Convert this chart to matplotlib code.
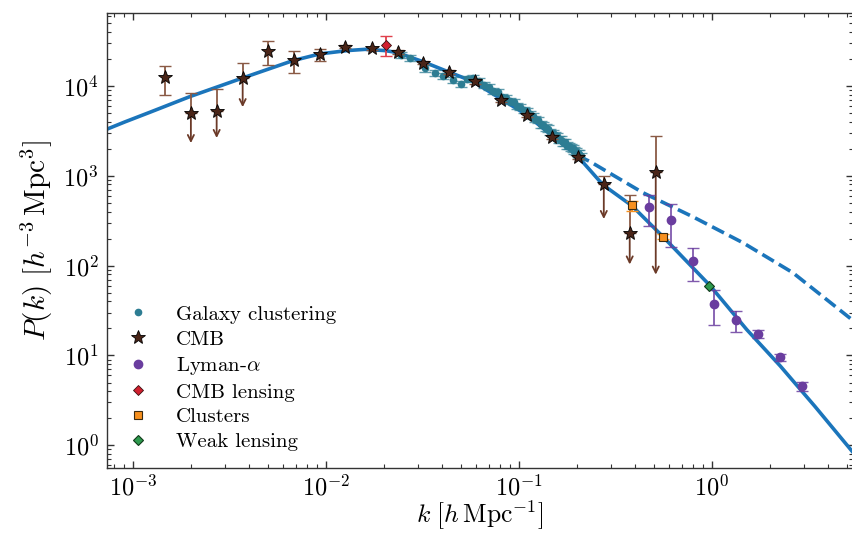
import matplotlib.pyplot as plt
import numpy as np

plt.rcParams.update({
    "font.family": "serif",
    "font.serif": ["cmr10"],
    "mathtext.fontset": "cm",
    "axes.formatter.use_mathtext": True,
    "axes.unicode_minus": False,
})

# linear theory P(k)
K_LIN = [7.35e-4, 9.12e-4, 1.23e-3, 1.98e-3, 3.72e-3, 6.76e-3, 9.33e-3, 1.29e-2,
         1.60e-2, 2.03e-2, 2.34e-2, 3.19e-2, 4.40e-2, 5.79e-2, 7.98e-2, 0.110,
         0.150, 0.200, 0.273, 0.386, 0.559, 0.980, 1.52, 2.26, 3.43, 5.40]
P_LIN = [3300, 3980, 5100, 7610, 12270, 19100, 22700, 24700,
         25500, 24700, 23500, 18600, 14100, 11200, 7300, 4760,
         2740, 1690, 794, 464, 210, 60, 19.4, 7.7, 2.71, 0.836]

# non-linear branch (dashed)
K_NL = [0.200, 0.234, 0.440, 0.798, 1.45, 2.63, 5.40]
P_NL = [1690, 1440, 648, 350, 180, 83.6, 24.5]

# galaxy clustering
GAL_K = [0.0245, 0.0273, 0.0327, 0.0368, 0.0405, 0.0456, 0.0502, 0.0539,
         0.058, 0.062, 0.066, 0.070, 0.074, 0.078, 0.082, 0.086, 0.090, 0.094,
         0.098, 0.102, 0.106, 0.110, 0.114, 0.118, 0.122, 0.126, 0.130, 0.134,
         0.138, 0.142, 0.146, 0.150, 0.154, 0.158, 0.162, 0.166, 0.170, 0.174,
         0.178, 0.182, 0.186, 0.190, 0.194, 0.198, 0.202, 0.206, 0.210]
GAL_P = [22000, 20500, 15700, 14060, 12900, 11660, 10520, 11860,
         12200, 11360, 10150, 9720, 8770, 8470, 7560, 7300, 6800, 6590,
         5950, 5800, 5400, 5280, 4820, 4610, 4290, 4170, 3760, 3690,
         3430, 3350, 3070, 2980, 2820, 2770, 2560, 2520, 2380, 2350,
         2170, 2150, 2060, 2020, 1900, 1880, 1780, 1750, 1650]
GAL_ERR = [1800, 1700, 1300, 1150, 1050, 950, 860, 900,
           900, 850, 780, 740, 680, 650, 600, 580, 540, 520,
           480, 470, 440, 430, 400, 380, 360, 350, 320, 310,
           290, 285, 265, 255, 245, 240, 225, 220, 210, 205,
           195, 190, 185, 180, 170, 170, 160, 160, 150]

# CMB (stars); upper limits drawn with arrows
CMB_K = [1.47e-3, 2.00e-3, 2.72e-3, 3.71e-3, 5.03e-3, 6.84e-3, 9.33e-3, 1.26e-2,
         1.73e-2, 2.36e-2, 3.20e-2, 4.35e-2, 5.91e-2, 8.09e-2, 0.110, 0.149,
         0.203, 0.276, 0.376, 0.513]
CMB_P = [12400, 4980, 5270, 12180, 24500, 19400, 22700, 27400,
         26200, 23900, 18200, 14200, 11200, 7050, 4720, 2690,
         1630, 809, 231, 1090]
CMB_HI = [16800, 8430, 9330, 18200, 31600, 24700, 25600, 28800,
          27300, 25000, 19000, 14900, 11800, 7400, 4950, 2820,
          1710, 981, 604, 2780]
CMB_LO = [7880, 2310, 2630, 5800, 17100, 13840, 18950, 26100,
          25100, 22800, 17400, 13500, 10600, 6700, 4500, 2560,
          1550, 330, 103, 79.4]
CMB_LIMIT = [False, True, True, True, False, False, False, False,
             False, False, False, False, False, False, False, False,
             False, True, True, True]

# Lyman-alpha forest
LYA_K = [0.471, 0.615, 0.797, 1.03, 1.34, 1.74, 2.26, 2.93]
LYA_P = [449, 324, 112, 37.8, 25.1, 17.4, 9.57, 4.53]
LYA_HI = [611, 489, 157, 53.2, 31.0, 19.1, 10.5, 5.05]
LYA_LO = [278, 161, 67, 21.9, 18.3, 15.7, 8.65, 3.98]

# CMB lensing
LENS_K = [2.05e-2]
LENS_P = [28500]
LENS_HI = [35900]
LENS_LO = [21500]

# clusters
CL_K = [0.387, 0.557]
CL_P = [468, 210]
CL_ERR = [60, 12]

# weak lensing
WL_K = [0.967]
WL_P = [60]

LINE_C = "#1b75bb"
GAL_C = "#2d7d93"
CMB_C = "#4a2518"
CMB_EC = "#8a5a45"
LYA_C = "#6a3d9f"
LENS_C = "#d1202f"
CL_C = "#f7901e"
WL_C = "#2e9a4e"


def main():
    fig = plt.figure(figsize=(8.53, 5.34), dpi=100)
    ax = fig.add_axes([107 / 853, 1 - 468 / 534, (853 - 107) / 853, (468 - 13) / 534])

    ax.plot(K_NL, P_NL, ls="--", color=LINE_C, lw=2.6, zorder=2)
    ax.plot(K_LIN, P_LIN, ls="-", color=LINE_C, lw=2.6, zorder=2)

    # galaxy clustering
    ax.errorbar(GAL_K, GAL_P, yerr=GAL_ERR, fmt="none", ecolor=GAL_C, alpha=0.75,
                elinewidth=1.2, capsize=4.5, zorder=3)
    ax.plot(GAL_K, GAL_P, ls="none", marker="o", ms=4.5, color=GAL_C, zorder=3,
            label="Galaxy clustering")

    # CMB
    cmb_k = np.array(CMB_K)
    cmb_p = np.array(CMB_P)
    hi = np.array(CMB_HI) - cmb_p
    lo = cmb_p - np.array(CMB_LO)
    lim = np.array(CMB_LIMIT)
    ax.errorbar(cmb_k[~lim], cmb_p[~lim], yerr=[lo[~lim], hi[~lim]], fmt="none",
                ecolor=CMB_EC, elinewidth=1.3, capsize=4.5, zorder=4)
    ax.errorbar(cmb_k[lim], cmb_p[lim], yerr=[np.zeros(lim.sum()), hi[lim]], fmt="none",
                ecolor=CMB_EC, elinewidth=1.3, capsize=4.5, zorder=4)
    for k, p, low in zip(cmb_k[lim], cmb_p[lim], np.array(CMB_LO)[lim]):
        ax.annotate("", xy=(k, low), xytext=(k, p),
                    arrowprops=dict(arrowstyle="->", color="#6b3a28", lw=1.3,
                                    shrinkA=0, shrinkB=0, mutation_scale=11),
                    zorder=4)
    ax.plot(CMB_K, CMB_P, ls="none", marker="*", ms=10.5, color=CMB_C, mec="black",
            mew=0.6, zorder=5, label="CMB")

    # Lyman-alpha
    lya_p = np.array(LYA_P)
    ax.errorbar(LYA_K, LYA_P, yerr=[lya_p - np.array(LYA_LO), np.array(LYA_HI) - lya_p],
                fmt="none", ecolor=LYA_C, alpha=0.85, elinewidth=1.3, capsize=4.5, zorder=4)
    ax.plot(LYA_K, LYA_P, ls="none", marker="o", ms=6, color=LYA_C, zorder=5,
            label=r"Lyman-$\alpha$")

    # CMB lensing
    ax.errorbar(LENS_K, LENS_P,
                yerr=[[LENS_P[0] - LENS_LO[0]], [LENS_HI[0] - LENS_P[0]]],
                fmt="none", ecolor="#e0404c", elinewidth=1.3, capsize=4.5, zorder=4)
    ax.plot(LENS_K, LENS_P, ls="none", marker="D", ms=5, color=LENS_C, mec="#3a1010",
            mew=0.6, zorder=5, label="CMB lensing")

    # clusters
    ax.errorbar(CL_K, CL_P, yerr=CL_ERR, fmt="none", ecolor=CL_C, elinewidth=1.3,
                capsize=4.5, zorder=4)
    ax.plot(CL_K, CL_P, ls="none", marker="s", ms=6, color=CL_C, mec="#3a2a10",
            mew=0.8, zorder=5, label="Clusters")

    # weak lensing
    ax.plot(WL_K, WL_P, ls="none", marker="D", ms=5, color=WL_C, mec="#103a1a",
            mew=0.8, zorder=5, label="Weak lensing")

    ax.set_xscale("log")
    ax.set_yscale("log")
    ax.set_xlim(7.35e-4, 5.4)
    ax.set_ylim(0.56, 6.47e4)

    ax.set_xlabel(r"$k\ [h\,\mathrm{Mpc}^{-1}]$", fontsize=18.5, labelpad=-1)
    ax.set_ylabel(r"$P(k)\ [h^{-3}\,\mathrm{Mpc}^3]$", fontsize=21, labelpad=6)

    ax.tick_params(which="both", direction="in", top=True, right=True, colors="#333333",
                   labelsize=17.5, labelcolor="black")
    ax.tick_params(which="major", length=5, width=1.0, pad=5)
    ax.tick_params(which="minor", length=3, width=0.8)
    ax.tick_params(axis="y", which="major", pad=6)
    for side in ax.spines.values():
        side.set_color("#333333")
        side.set_linewidth(1.0)

    ax.legend(loc="lower left", bbox_to_anchor=(0.0, 0.0), frameon=False,
              fontsize=15, handlelength=1.4, handletextpad=1.1, labelspacing=0.3,
              borderaxespad=0.4)

    fig.savefig("out.png", dpi=100)
    plt.close(fig)


if __name__ == "__main__":
    main()
